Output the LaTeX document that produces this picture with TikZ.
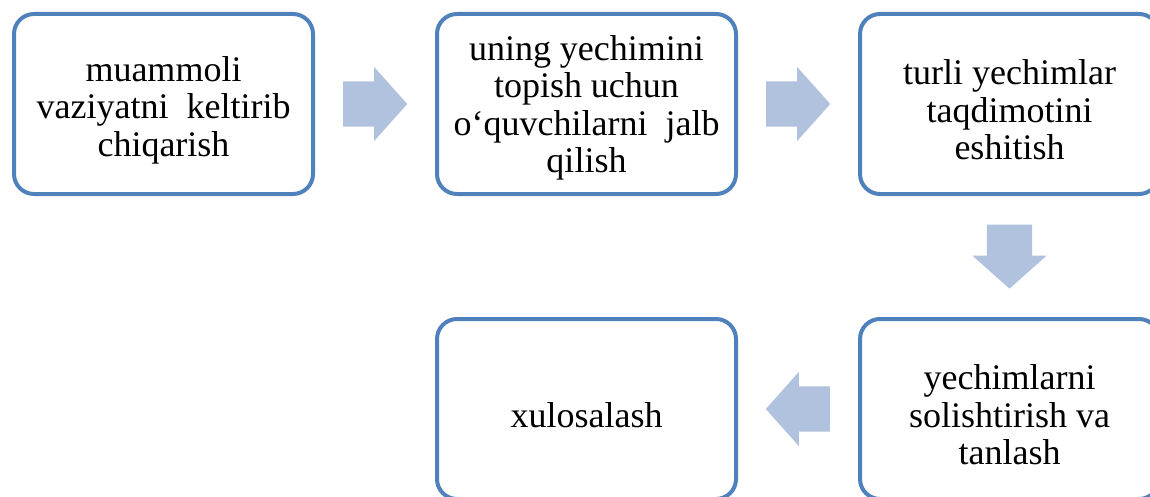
\documentclass[tikz,border=0pt]{standalone}
\usepackage{fontspec}
\setmainfont{Liberation Serif}
\usetikzlibrary{positioning,shapes.arrows,calc}
\definecolor{boxblue}{RGB}{79,129,189}
\definecolor{arrowblue}{RGB}{176,194,222}

\begin{document}
\begin{tikzpicture}[
		x=1pt, y=-1pt,
		node distance=120pt,
		stepbox/.style={rectangle,draw=boxblue,line width=4pt,rounded corners=20pt,
			minimum width=299pt,minimum height=180pt},
		steptext/.style={align=center,yshift=-6pt,font=\fontsize{36}{37.5}\selectfont},
		blockarrow/.style={single arrow,fill=arrowblue,draw=none,inner xsep=0pt,
			inner ysep=22.5pt,minimum height=64pt,single arrow head extend=14.5pt,
			single arrow tip angle=96.6,anchor=tail}
		]
		\clip (0,0) rectangle (1150,497);
		\node[stepbox, label={[steptext]center:muammoli\\vaziyatni\ \ keltirib\\chiqarish}] (muammo) at (163.5,104) {};
		\node[stepbox, right=of muammo, label={[steptext,yshift=2pt]center:uning yechimini\\topish uchun\\o‘quvchilarni\ \ jalb\\qilish}] (jalb) {};
		\node[stepbox, right=of jalb, label={[steptext]center:turli yechimlar\\taqdimotini\\eshitish}] (taqdim) {};
		\node[stepbox, below=121pt of taqdim, label={[steptext]center:yechimlarni\\solishtirish va\\tanlash}] (solish) {};
		\node[stepbox, left=of solish, label={[steptext]center:xulosalash}] (xulosa) {};
		% block arrows between the steps, tail half a length before the midpoint
		\node[blockarrow] (a1) at ($(muammo.east)!0.5!(jalb.west)+(-32,0)$) {};
		\node[blockarrow] (a2) at ($(jalb.east)!0.5!(taqdim.west)+(-32,0)$) {};
		\node[blockarrow, rotate=-90] (a3) at ($(taqdim.south)!0.5!(solish.north)+(0,-32)$) {};
		\node[blockarrow, rotate=180] (a4) at ($(solish.west)!0.5!(xulosa.east)+(32,0)$) {};
\end{tikzpicture}
\end{document}
